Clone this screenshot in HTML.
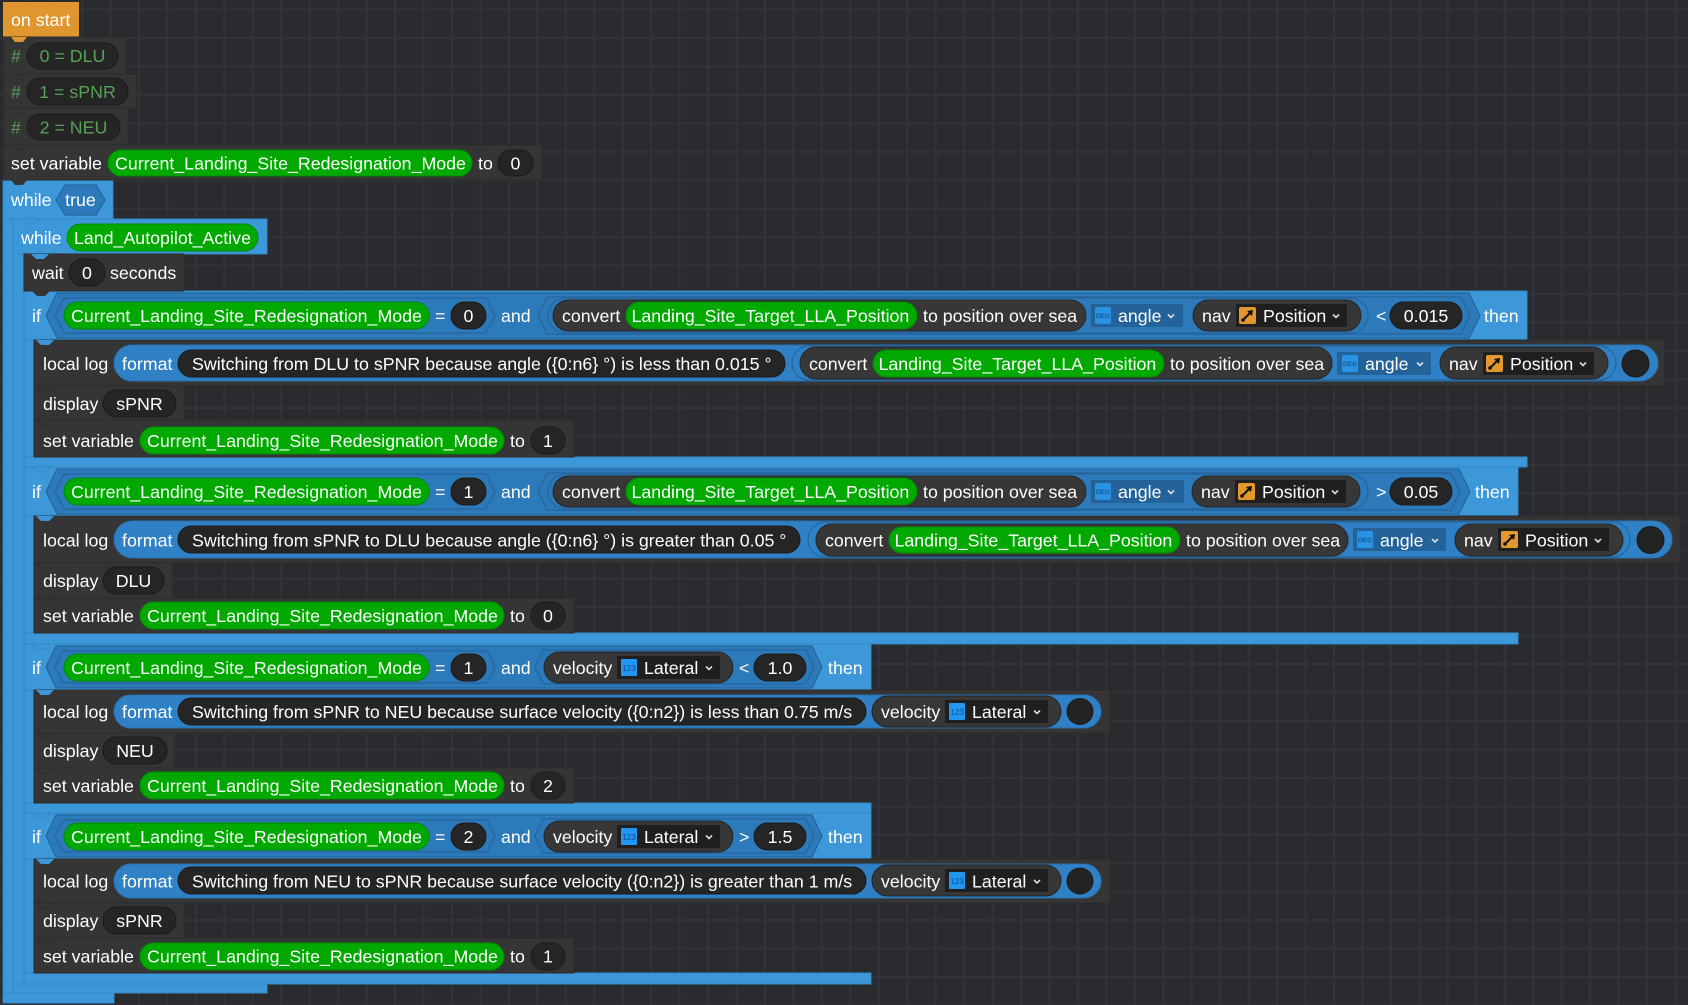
<!DOCTYPE html>
<html><head><meta charset="utf-8">
<style>
html,body{margin:0;padding:0}
body{width:1688px;height:1005px;overflow:hidden;position:relative;background-color:#2a2b2f;
background-image:linear-gradient(to right,#323438 0,#323438 2px,transparent 2px),linear-gradient(to bottom,#323438 0,#323438 2px,transparent 2px);
background-size:28.46px 28.46px;background-position:24.2px 8.6px;}
svg{position:absolute;left:0;top:0}
text{font-family:"Liberation Sans",Arial,sans-serif;font-size:17.8px;fill:#fff}
.blk{fill:#353535;stroke:#2a2a2a;stroke-width:1}
.blu{fill:#3d98da;stroke:#3387c4;stroke-width:1}
.hex{fill:#2d7aba;stroke:#24659c;stroke-width:1.2}
.grn{fill:#00a800;stroke:#008c00;stroke-width:1}
.val{fill:#252525;stroke:#1a1a1a;stroke-width:1}
.call{fill:#373737;stroke:#262626;stroke-width:1}
.fmt{fill:#2f80c4;stroke:#2a70ad;stroke-width:1}
.wrap{fill:none;stroke:#25679e;stroke-width:1.2}
.ang{fill:#24629a}
.box{fill:#1f1f1f}
.cm{fill:#57a157}
.mid{text-anchor:middle}
.chev{stroke:#ddd;stroke-width:1.6;fill:none}
.ic{font-size:6.5px;font-weight:bold;fill:#17598f;text-anchor:middle}
.ic2{font-size:8px;fill:#0d4f8a;text-anchor:middle}
</style></head><body>
<svg width="1688" height="1005" viewBox="0 0 1688 1005" xmlns="http://www.w3.org/2000/svg">

<!-- ===== outer while ===== -->
<rect class="blu" x="3" y="180" width="110" height="39"/>
<rect class="blu" x="3" y="219" width="10" height="775"/>
<rect class="blu" x="3" y="993" width="111" height="10"/>
<!-- ===== inner while ===== -->
<rect class="blu" x="13" y="219" width="254" height="35"/>
<rect class="blu" x="13" y="254" width="11" height="731"/>
<rect class="blu" x="13" y="984" width="254" height="9"/>

<!-- ===== if blocks frames ===== -->
<rect class="blu" x="24" y="291" width="1503" height="49"/>
<rect class="blu" x="24" y="340" width="10" height="117"/>
<rect class="blu" x="24" y="457" width="1503" height="10"/>

<rect class="blu" x="24" y="467" width="1494" height="49"/>
<rect class="blu" x="24" y="516" width="10" height="117"/>
<rect class="blu" x="24" y="633" width="1494" height="11"/>

<rect class="blu" x="24" y="644" width="847" height="46"/>
<rect class="blu" x="24" y="690" width="10" height="113"/>
<rect class="blu" x="24" y="803" width="847" height="10"/>

<rect class="blu" x="24" y="813" width="847" height="46"/>
<rect class="blu" x="24" y="859" width="10" height="114"/>
<rect class="blu" x="24" y="973" width="847" height="11"/>

<!-- ===== on start ===== -->
<rect x="3" y="2" width="76" height="35" fill="#e0962f"/>
<text x="11" y="26">on start</text>

<!-- comments -->
<rect class="blk" x="3" y="37" width="123" height="37"/>
<text class="cm" x="11" y="62">#</text>
<rect class="val" x="27" y="43" width="91" height="26" rx="13"/>
<text class="cm mid" x="72.5" y="62">0 = DLU</text>

<rect class="blk" x="3" y="74" width="134" height="34"/>
<text class="cm" x="11" y="97.8">#</text>
<rect class="val" x="27" y="78" width="101" height="27" rx="13.5"/>
<text class="cm mid" x="77.5" y="97.8">1 = sPNR</text>

<rect class="blk" x="3" y="108" width="125" height="37"/>
<text class="cm" x="11" y="133.4">#</text>
<rect class="val" x="27" y="114" width="93" height="26" rx="13"/>
<text class="cm mid" x="73.5" y="133.4">2 = NEU</text>

<!-- set variable top -->
<rect class="blk" x="3" y="145" width="539" height="35"/>
<text x="11" y="169.4">set variable</text>
<rect class="grn" x="108" y="150" width="364" height="26" rx="13"/>
<text x="115" y="169.4">Current_Landing_Site_Redesignation_Mode</text>
<text x="478" y="169.4">to</text>
<rect class="val" x="498" y="150" width="35" height="26" rx="13"/>
<text class="mid" x="515.5" y="169.4">0</text>

<!-- notches -->
<polygon points="11,37 27,37 23,42 15,42" fill="#e0962f"/>
<polygon points="11,74 27,74 23,79 15,79" fill="#353535" stroke="#2a2a2a"/>
<polygon points="11,108 27,108 23,113 15,113" fill="#353535" stroke="#2a2a2a"/>
<polygon points="11,145 27,145 23,150 15,150" fill="#353535" stroke="#2a2a2a"/>
<polygon points="11,180 27,180 23,185 15,185" fill="#353535"/>

<!-- while true -->
<text x="11" y="206">while</text>
<polygon class="hex" points="56,200 65,185 96,185 105,200 96,215 65,215"/>
<text class="mid" x="80.5" y="206">true</text>
<polygon points="22,219 40,219 35,224 27,224" fill="#3d98da" stroke="#3387c4"/>

<!-- inner while -->
<text x="21" y="244">while</text>
<rect class="grn" x="67" y="224" width="191" height="27" rx="13.5"/>
<text x="74" y="244">Land_Autopilot_Active</text>

<!-- wait -->
<rect class="blk" x="24" y="254" width="160" height="37"/>
<polygon points="31,254 49,254 44,259 36,259" fill="#3d98da"/>
<text x="32" y="279">wait</text>
<rect class="val" x="69" y="259" width="36" height="27" rx="13.5"/>
<text class="mid" x="87" y="279">0</text>
<text x="110" y="279">seconds</text>
<polygon points="32,291 50,291 45,296 37,296" fill="#353535"/>

<!-- ================= IF 1 header ================= -->
<text x="32" y="322">if</text>
<polygon class="hex" points="46,315.5 57,293 1469,293 1480,315.5 1469,338 57,338"/>
<polygon class="hex" points="55,315.5 64,298 486,298 495,315.5 486,333 64,333"/>
<rect class="grn" x="64" y="302" width="365" height="27" rx="13.5"/>
<text x="71" y="322">Current_Landing_Site_Redesignation_Mode</text>
<text x="435" y="322">=</text>
<rect class="val" x="451" y="302" width="35" height="27" rx="13.5"/>
<text class="mid" x="468.5" y="322">0</text>
<text x="501" y="322">and</text>
<polygon class="hex" points="538,315.5 547,297 1461,297 1470,315.5 1461,334 547,334"/>
<rect class="hex" x="548" y="298" width="820" height="35" rx="17.5"/>
<rect class="call" x="553" y="300" width="533" height="31" rx="15.5"/>
<text x="562" y="322">convert</text>
<rect class="grn" x="626" y="302" width="291" height="27" rx="13.5"/>
<text x="631.5" y="322">Landing_Site_Target_LLA_Position</text>
<text x="923" y="322">to position over sea</text>
<rect class="ang" x="1091" y="304" width="92" height="23"/>
<rect x="1095" y="307" width="16" height="17" rx="2" fill="#2a93e6"/>
<text class="ic" x="1103" y="318">DEG</text>
<text x="1118" y="322">angle</text>
<path class="chev" d="M1168 314.5 L1171 317.5 L1174 314.5"/>
<rect class="call" x="1193" y="300" width="168" height="31" rx="15.5"/>
<text x="1202" y="322">nav</text>
<rect class="box" x="1236" y="304" width="111" height="23"/>
<rect x="1239" y="307" width="17" height="17" rx="2" fill="#e3982f"/>
<line x1="1243" y1="320" x2="1252" y2="311" stroke="#111" stroke-width="2"/>
<polygon points="1253,310 1247,311 1252,316" fill="#111"/>
<circle cx="1243" cy="320" r="1.8" fill="#111"/>
<text x="1263" y="322">Position</text>
<path class="chev" d="M1333 314.5 L1336 317.5 L1339 314.5"/>
<text x="1376" y="322">&lt;</text>
<rect class="val" x="1390" y="302" width="72" height="27" rx="13.5"/>
<text class="mid" x="1426" y="322">0.015</text>
<text x="1484" y="322">then</text>
<polygon points="36,340 54,340 49,345 41,345" fill="#3d98da"/>

<!-- IF1 log -->
<rect class="blk" x="34" y="340" width="1631" height="46"/>
<polygon points="36,340 54,340 49,345 41,345" fill="#3d98da"/>
<text x="43" y="370">local log</text>
<rect class="fmt" x="114" y="345" width="1544" height="36" rx="18"/>
<text x="122" y="370">format</text>
<rect class="val" x="178" y="350" width="607" height="27" rx="13.5"/>
<text x="192" y="370">Switching from DLU to sPNR because angle ({0:n6} °) is less than 0.015 °</text>
<rect class="wrap" x="792" y="346" width="824" height="34" rx="17"/>
<rect class="call" x="800" y="347" width="532" height="32" rx="16"/>
<text x="809" y="370">convert</text>
<rect class="grn" x="873" y="350" width="291" height="27" rx="13.5"/>
<text x="878.5" y="370">Landing_Site_Target_LLA_Position</text>
<text x="1170" y="370">to position over sea</text>
<rect class="ang" x="1337" y="352" width="94" height="23"/>
<rect x="1342" y="355" width="16" height="17" rx="2" fill="#2a93e6"/>
<text class="ic" x="1350" y="366">DEG</text>
<text x="1365" y="370">angle</text>
<path class="chev" d="M1417 362.5 L1420 365.5 L1423 362.5"/>
<rect class="call" x="1440" y="347" width="168" height="32" rx="16"/>
<text x="1449" y="370">nav</text>
<rect class="box" x="1483" y="352" width="111" height="23"/>
<rect x="1486" y="355" width="17" height="17" rx="2" fill="#e3982f"/>
<line x1="1490" y1="368" x2="1499" y2="359" stroke="#111" stroke-width="2"/>
<polygon points="1500,358 1494,359 1499,364" fill="#111"/>
<circle cx="1490" cy="368" r="1.8" fill="#111"/>
<text x="1510" y="370">Position</text>
<path class="chev" d="M1580 362.5 L1583 365.5 L1586 362.5"/>
<circle cx="1635.5" cy="363.5" r="13.5" fill="#232323" stroke="#1a1a1a"/>

<!-- IF1 display -->
<rect class="blk" x="34" y="386" width="150" height="34"/>
<polygon points="38,386 54,386 50,391 42,391" fill="#353535" stroke="#2a2a2a"/>
<text x="43" y="410">display</text>
<rect class="val" x="103" y="390" width="73" height="27" rx="13.5"/>
<text class="mid" x="139.5" y="410">sPNR</text>
<!-- IF1 set var -->
<rect class="blk" x="34" y="420" width="540" height="37"/>
<polygon points="38,420 54,420 50,425 42,425" fill="#353535" stroke="#2a2a2a"/>
<text x="43" y="447">set variable</text>
<rect class="grn" x="140" y="427" width="364" height="27" rx="13.5"/>
<text x="147" y="447">Current_Landing_Site_Redesignation_Mode</text>
<text x="510" y="447">to</text>
<rect class="val" x="531" y="427" width="34" height="27" rx="13.5"/>
<text class="mid" x="548" y="447">1</text>

<!-- ================= IF 2 header ================= -->
<text x="32" y="498">if</text>
<polygon class="hex" points="46,491.5 57,469 1459,469 1470,491.5 1459,514 57,514"/>
<polygon class="hex" points="55,491.5 64,474 486,474 495,491.5 486,509 64,509"/>
<rect class="grn" x="64" y="478" width="365" height="27" rx="13.5"/>
<text x="71" y="498">Current_Landing_Site_Redesignation_Mode</text>
<text x="435" y="498">=</text>
<rect class="val" x="451" y="478" width="35" height="27" rx="13.5"/>
<text class="mid" x="468.5" y="498">1</text>
<text x="501" y="498">and</text>
<polygon class="hex" points="538,491.5 547,473 1451,473 1460,491.5 1451,510 547,510"/>
<rect class="hex" x="548" y="474" width="820" height="35" rx="17.5"/>
<rect class="call" x="553" y="476" width="533" height="31" rx="15.5"/>
<text x="562" y="498">convert</text>
<rect class="grn" x="626" y="478" width="291" height="27" rx="13.5"/>
<text x="631.5" y="498">Landing_Site_Target_LLA_Position</text>
<text x="923" y="498">to position over sea</text>
<rect class="ang" x="1091" y="480" width="93" height="23"/>
<rect x="1095" y="483" width="16" height="17" rx="2" fill="#2a93e6"/>
<text class="ic" x="1103" y="494">DEG</text>
<text x="1118" y="498">angle</text>
<path class="chev" d="M1168 490.5 L1171 493.5 L1174 490.5"/>
<rect class="call" x="1192" y="476" width="168" height="31" rx="15.5"/>
<text x="1201" y="498">nav</text>
<rect class="box" x="1235" y="480" width="111" height="23"/>
<rect x="1238" y="483" width="17" height="17" rx="2" fill="#e3982f"/>
<line x1="1242" y1="496" x2="1251" y2="487" stroke="#111" stroke-width="2"/>
<polygon points="1252,486 1246,487 1251,492" fill="#111"/>
<circle cx="1242" cy="496" r="1.8" fill="#111"/>
<text x="1262" y="498">Position</text>
<path class="chev" d="M1332 490.5 L1335 493.5 L1338 490.5"/>
<text x="1376" y="498">&gt;</text>
<rect class="val" x="1390" y="478" width="62" height="27" rx="13.5"/>
<text class="mid" x="1421" y="498">0.05</text>
<text x="1475" y="498">then</text>

<!-- IF2 log -->
<rect class="blk" x="34" y="516" width="1646" height="47"/>
<polygon points="36,516 54,516 49,521 41,521" fill="#3d98da"/>
<text x="43" y="546.5">local log</text>
<rect class="fmt" x="114" y="521" width="1558" height="37" rx="18.5"/>
<text x="122" y="546.5">format</text>
<rect class="val" x="178" y="526" width="622" height="27" rx="13.5"/>
<text x="192" y="546.5">Switching from sPNR to DLU because angle ({0:n6} °) is greater than 0.05 °</text>
<rect class="wrap" x="808" y="522" width="822" height="35" rx="17.5"/>
<rect class="call" x="816" y="524" width="532" height="32" rx="16"/>
<text x="825" y="546.5">convert</text>
<rect class="grn" x="889" y="527" width="291" height="26" rx="13"/>
<text x="894.5" y="546.5">Landing_Site_Target_LLA_Position</text>
<text x="1186" y="546.5">to position over sea</text>
<rect class="ang" x="1353" y="528" width="93" height="23"/>
<rect x="1357" y="531" width="16" height="17" rx="2" fill="#2a93e6"/>
<text class="ic" x="1365" y="542">DEG</text>
<text x="1380" y="546.5">angle</text>
<path class="chev" d="M1432 539 L1435 542 L1438 539"/>
<rect class="call" x="1455" y="524" width="168" height="32" rx="16"/>
<text x="1464" y="546.5">nav</text>
<rect class="box" x="1498" y="528" width="111" height="23"/>
<rect x="1501" y="531" width="17" height="17" rx="2" fill="#e3982f"/>
<line x1="1505" y1="544" x2="1514" y2="535" stroke="#111" stroke-width="2"/>
<polygon points="1515,534 1509,535 1514,540" fill="#111"/>
<circle cx="1505" cy="544" r="1.8" fill="#111"/>
<text x="1525" y="546.5">Position</text>
<path class="chev" d="M1595 539 L1598 542 L1601 539"/>
<circle cx="1650.5" cy="540" r="13.5" fill="#232323" stroke="#1a1a1a"/>

<!-- IF2 display -->
<rect class="blk" x="34" y="563" width="139" height="35"/>
<polygon points="38,563 54,563 50,568 42,568" fill="#353535" stroke="#2a2a2a"/>
<text x="43" y="587">display</text>
<rect class="val" x="103" y="567" width="61" height="27" rx="13.5"/>
<text class="mid" x="133.5" y="587">DLU</text>
<!-- IF2 set var -->
<rect class="blk" x="34" y="598" width="540" height="35"/>
<polygon points="38,598 54,598 50,603 42,603" fill="#353535" stroke="#2a2a2a"/>
<text x="43" y="622">set variable</text>
<rect class="grn" x="140" y="602" width="364" height="27" rx="13.5"/>
<text x="147" y="622">Current_Landing_Site_Redesignation_Mode</text>
<text x="510" y="622">to</text>
<rect class="val" x="531" y="602" width="34" height="27" rx="13.5"/>
<text class="mid" x="548" y="622">0</text>

<!-- ================= IF 3 header ================= -->
<text x="32" y="674">if</text>
<polygon class="hex" points="46,667 56,646 812,646 822,667 812,688 56,688"/>
<polygon class="hex" points="55,667 63,651 487,651 495,667 487,683 63,683"/>
<rect class="grn" x="64" y="654" width="365" height="27" rx="13.5"/>
<text x="71" y="674">Current_Landing_Site_Redesignation_Mode</text>
<text x="435" y="674">=</text>
<rect class="val" x="451" y="654" width="35" height="27" rx="13.5"/>
<text class="mid" x="468.5" y="674">1</text>
<text x="501" y="674">and</text>
<polygon class="hex" points="535,667 543,650 806,650 814,667 806,684 543,684"/>
<rect class="call" x="544" y="652" width="189" height="31" rx="15.5"/>
<text x="553" y="674">velocity</text>
<rect class="box" x="617" y="656" width="103" height="23"/>
<rect x="621" y="659" width="16" height="17" rx="1" fill="#2196f3"/>
<text class="ic2" x="629" y="671">123</text>
<text x="644" y="674">Lateral</text>
<path class="chev" d="M706 666.5 L709 669.5 L712 666.5"/>
<text x="739" y="674">&lt;</text>
<rect class="val" x="754" y="654" width="52" height="27" rx="13.5"/>
<text class="mid" x="780" y="674">1.0</text>
<text x="828" y="674">then</text>

<!-- IF3 log -->
<rect class="blk" x="34" y="690" width="1076" height="43"/>
<polygon points="36,690 54,690 49,695 41,695" fill="#3d98da"/>
<text x="43" y="718">local log</text>
<rect class="fmt" x="114" y="695" width="987" height="33" rx="16.5"/>
<text x="122" y="718">format</text>
<rect class="val" x="178" y="698" width="688" height="27" rx="13.5"/>
<text x="192" y="718">Switching from sPNR to NEU because surface velocity ({0:n2}) is less than 0.75 m/s</text>
<rect class="call" x="872" y="696" width="189" height="31" rx="15.5"/>
<text x="881" y="718">velocity</text>
<rect class="box" x="945" y="700" width="103" height="23"/>
<rect x="949" y="703" width="16" height="17" rx="1" fill="#2196f3"/>
<text class="ic2" x="957" y="715">123</text>
<text x="972" y="718">Lateral</text>
<path class="chev" d="M1034 710.5 L1037 713.5 L1040 710.5"/>
<circle cx="1080" cy="711.5" r="13" fill="#232323" stroke="#1a1a1a"/>

<!-- IF3 display -->
<rect class="blk" x="34" y="733" width="141" height="35"/>
<polygon points="38,733 54,733 50,738 42,738" fill="#353535" stroke="#2a2a2a"/>
<text x="43" y="757">display</text>
<rect class="val" x="103" y="737" width="64" height="27" rx="13.5"/>
<text class="mid" x="135" y="757">NEU</text>
<!-- IF3 set var -->
<rect class="blk" x="34" y="768" width="540" height="35"/>
<polygon points="38,768 54,768 50,773 42,773" fill="#353535" stroke="#2a2a2a"/>
<text x="43" y="792">set variable</text>
<rect class="grn" x="140" y="772" width="364" height="27" rx="13.5"/>
<text x="147" y="792">Current_Landing_Site_Redesignation_Mode</text>
<text x="510" y="792">to</text>
<rect class="val" x="531" y="772" width="34" height="27" rx="13.5"/>
<text class="mid" x="548" y="792">2</text>

<!-- ================= IF 4 header ================= -->
<text x="32" y="843">if</text>
<polygon class="hex" points="46,836 56,815 812,815 822,836 812,857 56,857"/>
<polygon class="hex" points="55,836 63,820 487,820 495,836 487,852 63,852"/>
<rect class="grn" x="64" y="823" width="365" height="27" rx="13.5"/>
<text x="71" y="843">Current_Landing_Site_Redesignation_Mode</text>
<text x="435" y="843">=</text>
<rect class="val" x="451" y="823" width="35" height="27" rx="13.5"/>
<text class="mid" x="468.5" y="843">2</text>
<text x="501" y="843">and</text>
<polygon class="hex" points="535,836 543,819 806,819 814,836 806,853 543,853"/>
<rect class="call" x="544" y="821" width="189" height="31" rx="15.5"/>
<text x="553" y="843">velocity</text>
<rect class="box" x="617" y="825" width="103" height="23"/>
<rect x="621" y="828" width="16" height="17" rx="1" fill="#2196f3"/>
<text class="ic2" x="629" y="840">123</text>
<text x="644" y="843">Lateral</text>
<path class="chev" d="M706 835.5 L709 838.5 L712 835.5"/>
<text x="739" y="843">&gt;</text>
<rect class="val" x="754" y="823" width="52" height="27" rx="13.5"/>
<text class="mid" x="780" y="843">1.5</text>
<text x="828" y="843">then</text>

<!-- IF4 log -->
<rect class="blk" x="34" y="859" width="1076" height="44"/>
<polygon points="36,859 54,859 49,864 41,864" fill="#3d98da"/>
<text x="43" y="887.5">local log</text>
<rect class="fmt" x="114" y="864" width="987" height="34" rx="17"/>
<text x="122" y="887.5">format</text>
<rect class="val" x="178" y="867" width="688" height="27" rx="13.5"/>
<text x="192" y="887.5">Switching from NEU to sPNR because surface velocity ({0:n2}) is greater than 1 m/s</text>
<rect class="call" x="872" y="865" width="189" height="31" rx="15.5"/>
<text x="881" y="887.5">velocity</text>
<rect class="box" x="945" y="869" width="103" height="23"/>
<rect x="949" y="872" width="16" height="17" rx="1" fill="#2196f3"/>
<text class="ic2" x="957" y="884">123</text>
<text x="972" y="887.5">Lateral</text>
<path class="chev" d="M1034 880 L1037 883 L1040 880"/>
<circle cx="1080" cy="881" r="13" fill="#232323" stroke="#1a1a1a"/>

<!-- IF4 display -->
<rect class="blk" x="34" y="903" width="150" height="35"/>
<polygon points="38,903 54,903 50,908 42,908" fill="#353535" stroke="#2a2a2a"/>
<text x="43" y="927">display</text>
<rect class="val" x="103" y="907" width="73" height="27" rx="13.5"/>
<text class="mid" x="139.5" y="927">sPNR</text>
<!-- IF4 set var -->
<rect class="blk" x="34" y="938" width="540" height="35"/>
<polygon points="38,938 54,938 50,943 42,943" fill="#353535" stroke="#2a2a2a"/>
<text x="43" y="962.5">set variable</text>
<rect class="grn" x="140" y="943" width="364" height="27" rx="13.5"/>
<text x="147" y="962.5">Current_Landing_Site_Redesignation_Mode</text>
<text x="510" y="962.5">to</text>
<rect class="val" x="531" y="943" width="34" height="27" rx="13.5"/>
<text class="mid" x="548" y="962.5">1</text>

<!-- notches between ifs -->
<polygon points="32,467 50,467 45,472 37,472" fill="#3d98da" stroke="#3387c4"/>
<polygon points="32,644 50,644 45,649 37,649" fill="#3d98da" stroke="#3387c4"/>
<polygon points="32,813 50,813 45,818 37,818" fill="#3d98da" stroke="#3387c4"/>

</svg>
</body></html>
